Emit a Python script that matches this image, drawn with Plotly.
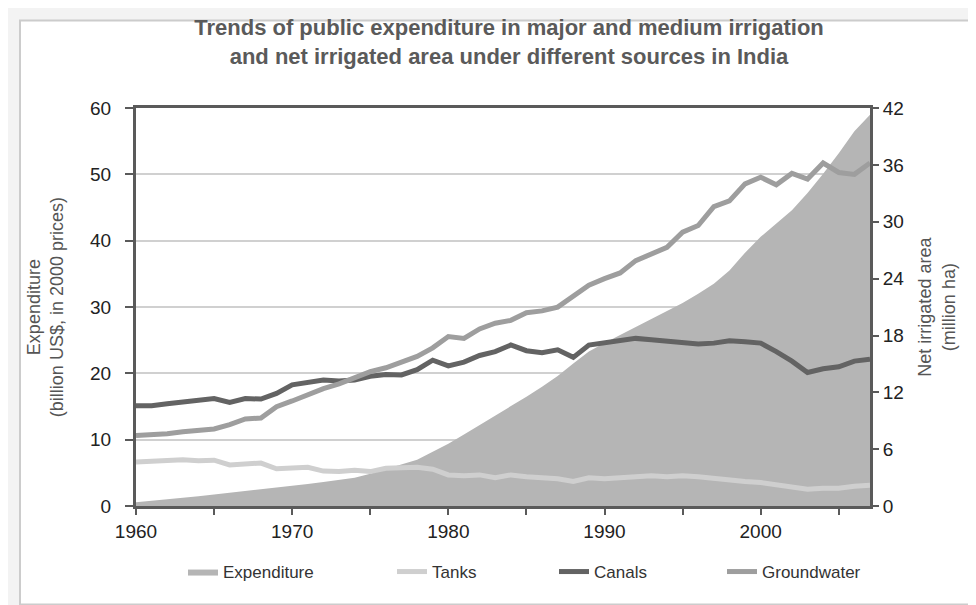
import plotly.graph_objects as go

years = list(range(1960, 2008))

expenditure = [0.6, 0.8, 1.0, 1.25, 1.5, 1.75, 2.0, 2.25, 2.5, 2.8,
               3.1, 3.35, 3.65, 3.95, 4.3, 4.9, 5.6, 6.2, 7.0, 8.2,
               9.4, 10.8, 12.2, 13.6, 15.0, 16.5, 18.0, 19.6, 21.5, 23.3,
               24.6, 25.8, 27.0, 28.2, 29.4, 30.6, 32.0, 33.5, 35.5, 38.2,
               40.6, 42.6, 44.6, 47.2, 50.1, 53.2, 56.5, 59.0]

tanks = [4.65, 4.7, 4.8, 4.9, 4.8, 4.85, 4.35, 4.5, 4.55, 3.95,
         4.0, 4.1, 3.7, 3.65, 3.8, 3.65, 4.0, 4.1, 4.1, 3.9,
         3.3, 3.2, 3.3, 3.0, 3.3, 3.1, 3.0, 2.9, 2.6, 3.0,
         2.9, 3.0, 3.1, 3.2, 3.1, 3.2, 3.1, 2.9, 2.7, 2.6,
         2.5, 2.3, 2.0, 1.8, 1.9, 1.9, 2.1, 2.2]

canals = [10.6, 10.6, 10.8, 11.0, 11.2, 11.35, 10.95, 11.35, 11.3, 11.9,
          12.8, 13.0, 13.3, 13.2, 13.3, 13.7, 13.9, 13.85, 14.4, 15.4,
          14.8, 15.2, 15.9, 16.3, 17.0, 16.4, 16.2, 16.5, 15.7, 17.0,
          17.2, 17.5, 17.7, 17.55, 17.4, 17.3, 17.1, 17.2, 17.45, 17.35,
          17.2, 16.3, 15.3, 14.1, 14.5, 14.7, 15.3, 15.5]

groundwater = [7.45, 7.5, 7.65, 7.85, 8.0, 8.15, 8.6, 9.2, 9.3, 10.5,
               11.1, 11.8, 12.4, 12.9, 13.5, 14.2, 14.6, 15.2, 15.8, 16.7,
               17.9, 17.7, 18.7, 19.3, 19.6, 20.4, 20.6, 21.0, 22.2, 23.3,
               24.0, 24.6, 25.9, 26.6, 27.3, 28.9, 29.6, 31.6, 32.2, 34.0,
               34.7, 33.9, 35.1, 34.5, 36.2, 35.2, 35.0, 36.2]

x_labels = [1960, 1970, 1980, 1990, 2000]
x_minor = [1965, 1975, 1985, 1995, 2005]
left_ticks = [0, 10, 20, 30, 40, 50, 60]
right_ticks = [0, 6, 12, 18, 24, 30, 36, 42]

W, H = 976, 605
ML, MR, MT, MB = 128, 114, 100, 104
PW, PH = W - ML - MR, H - MT - MB

def px_x(p):
    return (p - ML) / PW

def px_y(p):
    return (H - MB - p) / PH

FONT = "Arial, Liberation Sans, sans-serif"
AX = "#5a5a5a"

fig = go.Figure()
fig.add_trace(go.Scatter(x=years, y=expenditure, name="Expenditure", mode="lines",
                         fill="tozeroy", fillcolor="#b5b5b5", line=dict(width=0, color="#b5b5b5"),
                         yaxis="y", legend="legend", showlegend=True))
fig.add_trace(go.Scatter(x=years, y=tanks, name="Tanks", mode="lines",
                         line=dict(color="#cfcfcf", width=5), yaxis="y2", legend="legend2"))
fig.add_trace(go.Scatter(x=years, y=canals, name="Canals", mode="lines",
                         line=dict(color="#636363", width=5), yaxis="y2", legend="legend3"))
fig.add_trace(go.Scatter(x=years, y=groundwater, name="Groundwater", mode="lines",
                         line=dict(color="#9e9e9e", width=5), yaxis="y2", legend="legend4"))

def leg(px):
    return dict(x=px / W, xref="container", y=1 - 564 / H, yref="container",
                xanchor="left", yanchor="middle", orientation="h",
                font=dict(family=FONT, size=17, color="#333333"),
                bgcolor="rgba(0,0,0,0)", itemwidth=30)

fig.update_layout(
    width=W, height=H,
    showlegend=True,
    margin=dict(l=ML, r=MR, t=MT, b=MB),
    paper_bgcolor="#f3f3f3", plot_bgcolor="white",
    font=dict(family=FONT, color="#333333"),
    title=dict(text="Trends of public expenditure in major and medium irrigation<br>and net irrigated area under different sources in India",
               x=501 / W, xref="container", xanchor="center",
               y=1 - 27 / H, yref="container", yanchor="top",
               font=dict(family=FONT, size=22, color="#5a5a5a", weight="bold")),
    xaxis=dict(range=[1960, 2007], tickvals=x_labels, ticks="outside", ticklen=6,
               tickwidth=2, tickcolor=AX, showline=True, linecolor=AX, linewidth=3,
               mirror=True, showgrid=False, zeroline=False,
               tickfont=dict(size=19, color="#222222"),
               minor=dict(tickvals=x_minor, ticks="outside",
                          ticklen=6, tickwidth=2, tickcolor=AX, showgrid=False)),
    yaxis=dict(range=[0, 60], tickvals=left_ticks, ticks="outside", ticklen=8,
               tickwidth=2, tickcolor=AX, showline=True, linecolor=AX, linewidth=3,
               showgrid=True, gridcolor="#d0d0d0", gridwidth=1.5, zeroline=False,
               tickfont=dict(size=19, color="#222222"), ticklabelstandoff=10,
               title=dict(text="Expenditure<br>(billion US$, in 2000 prices)",
                          font=dict(size=18, color="#555555"), standoff=22)),
    yaxis2=dict(range=[0, 42], tickvals=right_ticks, overlaying="y", side="right",
                ticks="outside", ticklen=6, tickwidth=2, tickcolor=AX,
                showline=True, linecolor=AX, linewidth=3, showgrid=False, zeroline=False,
                tickfont=dict(size=19, color="#222222"),
                title=dict(text="Net irrigated area<br>(million ha)",
                           font=dict(size=18, color="#555555"), standoff=16)),
    yaxis3=dict(range=[0, 42], tickvals=right_ticks, overlaying="y", side="right",
                anchor="x", ticks="inside", ticklen=6, tickwidth=2, tickcolor=AX,
                showticklabels=False, showline=False, showgrid=False, zeroline=False),
    legend=leg(175), legend2=leg(384), legend3=leg(546), legend4=leg(714),
    shapes=[dict(type="rect", xref="paper", yref="paper", layer="below",
                 x0=px_x(12), x1=px_x(968), y0=px_y(600), y1=px_y(12),
                 line=dict(color="#cccccc", width=2), fillcolor="white")],
)

fig.write_html("out.html")
